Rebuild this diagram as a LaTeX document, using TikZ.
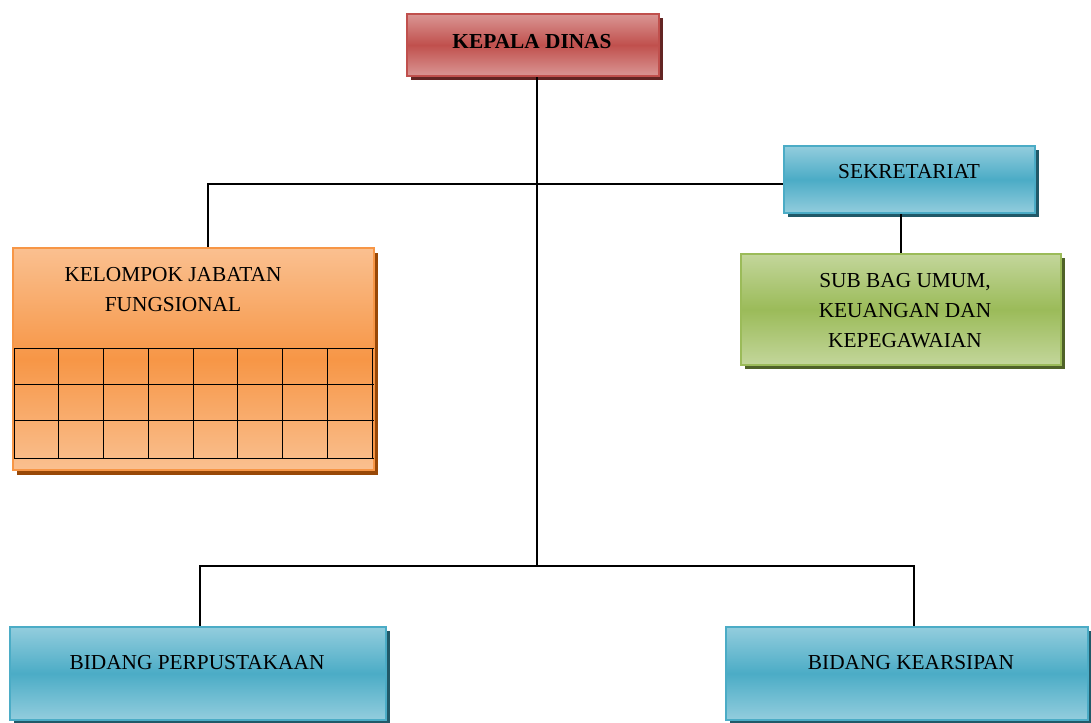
\documentclass[tikz,border=0pt]{standalone}
\usepackage{fontspec}
\setmainfont{Liberation Serif}
\usetikzlibrary{shadows}

\definecolor{redlight}{HTML}{DA9694}
\definecolor{reddark}{HTML}{C0504D}
\definecolor{redshadow}{HTML}{632523}
\definecolor{bluelight}{HTML}{93CDDD}
\definecolor{bluedark}{HTML}{4BACC6}
\definecolor{blueshadow}{HTML}{215968}
\definecolor{greenlight}{HTML}{C3D69B}
\definecolor{greendark}{HTML}{9BBB59}
\definecolor{greenshadow}{HTML}{4F6228}
\definecolor{orangelight}{HTML}{FAC090}
\definecolor{orangedark}{HTML}{F79646}
\definecolor{orangeshadow}{HTML}{984807}

\tikzset{
  orgbox/.style={rectangle, line width=1.6pt, inner sep=0pt},
  redbox/.style={orgbox, draw=reddark, top color=redlight, bottom color=redlight, middle color=reddark,
    drop shadow={shadow xshift=3pt, shadow yshift=-3pt, fill=redshadow, opacity=1}},
  bluebox/.style={orgbox, draw=bluedark, top color=bluelight, bottom color=bluelight, middle color=bluedark,
    drop shadow={shadow xshift=3pt, shadow yshift=-3pt, fill=blueshadow, opacity=1}},
  greenbox/.style={orgbox, draw=greendark, top color=greenlight, bottom color=greenlight, middle color=greendark,
    drop shadow={shadow xshift=3pt, shadow yshift=-3pt, fill=greenshadow, opacity=1}},
  orangebox/.style={orgbox, draw=orangedark, top color=orangelight, bottom color=orangelight, middle color=orangedark,
    drop shadow={shadow xshift=3pt, shadow yshift=-3.5pt, fill=orangeshadow, opacity=1}},
  boxtext/.style={inner sep=0.75pt, align=center, font=\fontsize{16}{22.5}\selectfont},
  link/.style={draw=black, line width=1pt},
}

\begin{document}
\begin{tikzpicture}[x=0.75pt,y=0.75pt,yscale=-1,xscale=1]
\useasboundingbox (0,0) rectangle (1091,722);

%Shape: Boxes
\node[redbox, minimum width=189pt, minimum height=46.5pt] (kepala) at (533,45) {};
\node[bluebox, minimum width=188.25pt, minimum height=50.25pt] (sekr) at (909.5,179.5) {};
\node[greenbox, minimum width=240pt, minimum height=83.25pt] (subbag) at (901,309.5) {};
\node[orangebox, minimum width=270.75pt, minimum height=166.5pt] (kelompok) at (193.5,359) {};
\node[bluebox, minimum width=282pt, minimum height=69.75pt] (bidangp) at (198,673.5) {};
\node[bluebox, minimum width=271.5pt, minimum height=69.75pt] (bidangk) at (907,673.5) {};

%Shape: Grid in kelompok
\foreach \gx in {14,58.75,...,374} {
  \draw [line width=0.7pt] (\gx,348) -- (\gx,458);
}
\foreach \gy in {348,384,420,458} {
  \draw [line width=0.7pt] (14,\gy) -- (374,\gy);
}

% Text Node
\node[boxtext, font=\fontsize{16}{20}\selectfont\bfseries] (kepalatext) at (532,42) {KEPALA DINAS};
% Text Node
\node[boxtext] (sekrtext) at (909,172) {SEKRETARIAT};
% Text Node
\node[boxtext] (subbagtext) at (905,311) {SUB BAG UMUM,\\KEUANGAN DAN\\KEPEGAWAIAN};
% Text Node
\node[boxtext] (kelompoktext) at (173,290) {KELOMPOK JABATAN\\FUNGSIONAL};
% Text Node
\node[boxtext] (bidangptext) at (197,663) {BIDANG PERPUSTAKAAN};
% Text Node
\node[boxtext] (bidangktext) at (911,663) {BIDANG KEARSIPAN};

%Connectors
\coordinate (trunk) at (537,566);
\coordinate (hookleft) at (208,184);
\coordinate (botleft) at (200,566);
\coordinate (botright) at (914,566);
\draw [link] (trunk |- kepala.south) -- (trunk);
\draw [link] (kelompok.north -| hookleft) -- (hookleft) -- (hookleft -| sekr.west);
\draw [link] (subbag.north |- sekr.south) -- (subbag.north);
\draw [link] (bidangp.north -| botleft) -- (botleft) -- (botright) -- (bidangk.north -| botright);

\end{tikzpicture}
\end{document}
